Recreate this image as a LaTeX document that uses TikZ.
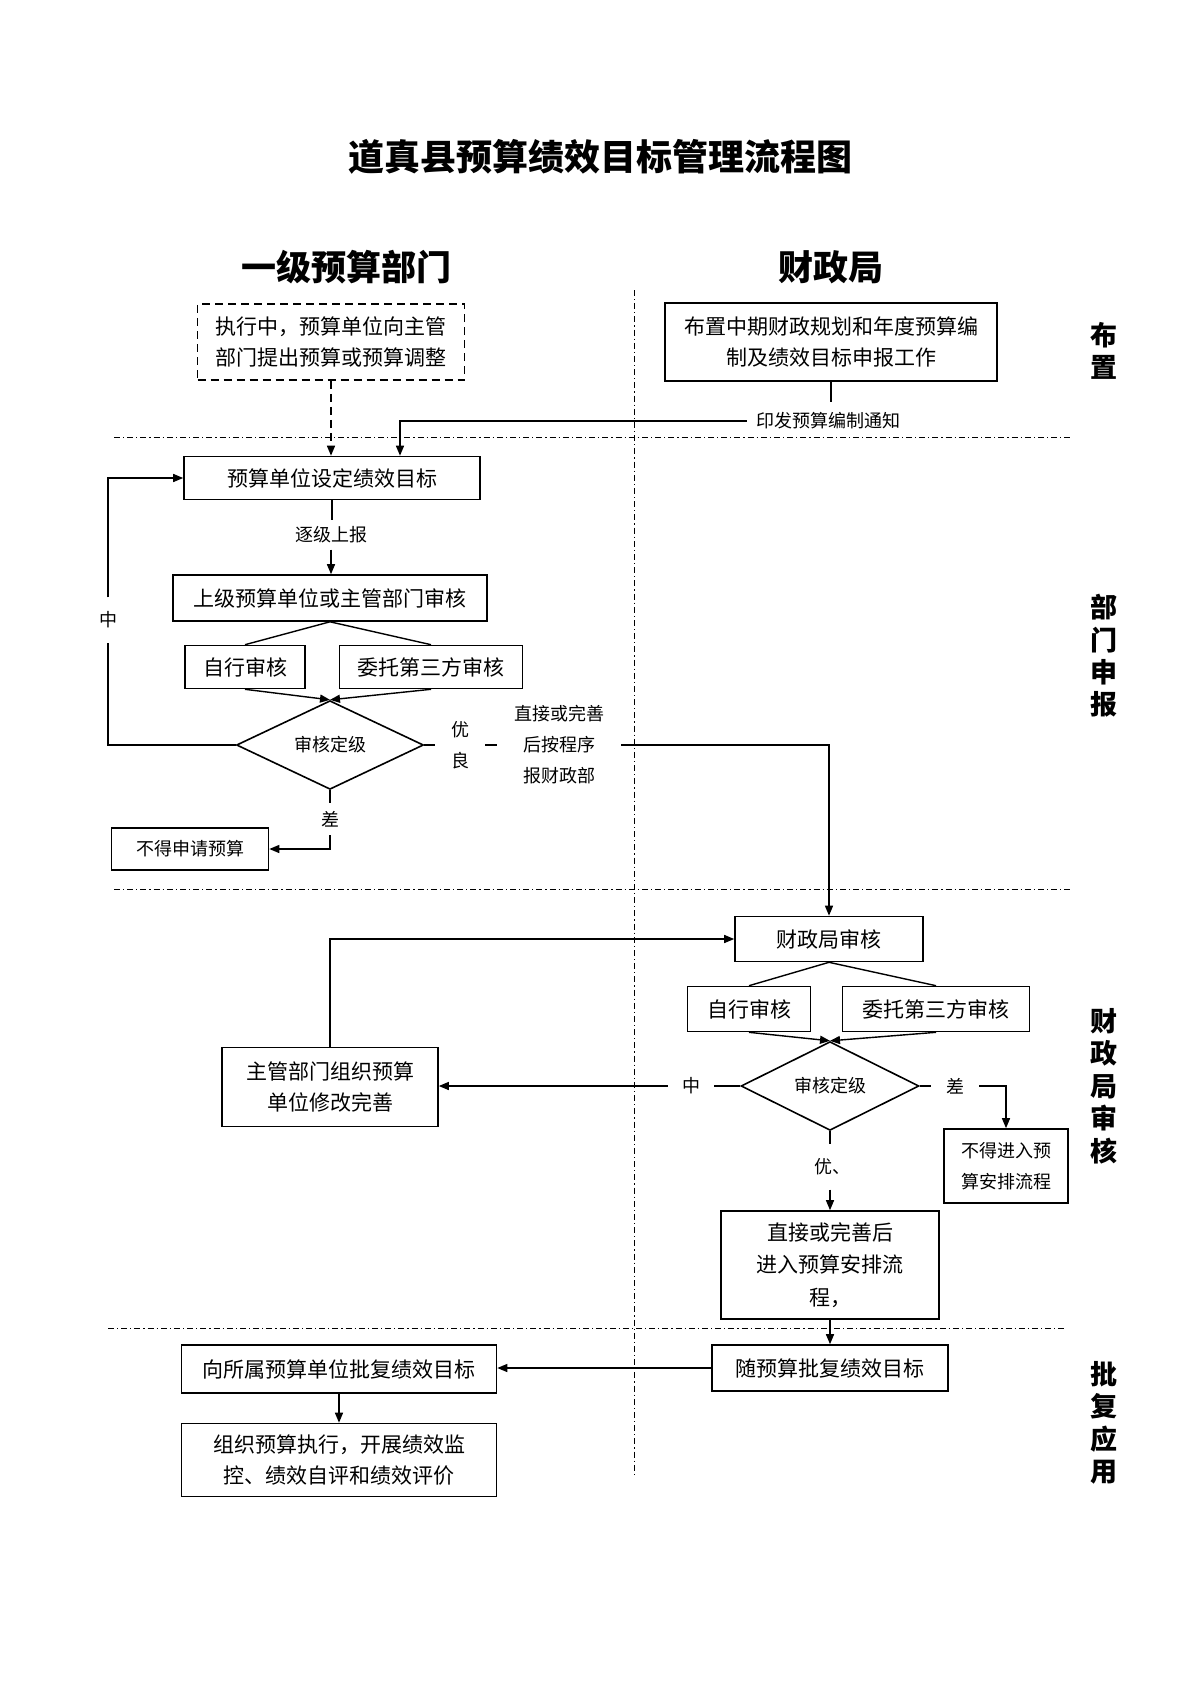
\documentclass[tikz,border=0pt]{standalone}
\usepackage{fontspec}
\newfontfamily\cjk{Noto Sans CJK SC}
\usetikzlibrary{shapes.geometric,arrows.meta,calc}
\begin{document}
\begin{tikzpicture}[x=0.5pt,y=-0.5pt,
  wh/.style 2 args={minimum width=#1*0.5pt,minimum height=#2*0.5pt},
  box/.style={draw,line width=0.8pt,inner sep=0pt,align=center,font=\cjk\fontsize{10.5}{15.5}\selectfont},
  sbox/.style={box,font=\cjk\fontsize{9}{15.5}\selectfont},
  lbl/.style={inner sep=0pt,align=center,font=\cjk\fontsize{9}{15.5}\selectfont},
  dia/.style={diamond,draw,line width=0.8pt,inner sep=0pt,font=\cjk\fontsize{9}{11}\selectfont},
  con/.style={line width=0.7pt},
  arr/.style={con,-{Triangle[length=5pt,width=4pt]}},
  sepline/.style={line width=0.45pt,dash pattern=on 3pt off 1.5pt on 0.6pt off 1.5pt},
  side/.style={align=center,font=\cjk\bfseries\fontsize{13.5}{16.2}\selectfont},
  head/.style={font=\cjk\bfseries\fontsize{17.5}{20}\selectfont},
]
\fill[white] (0,0) rectangle (1200,1696);
\useasboundingbox (0,0) rectangle (1200,1696);

% title and headers
\node[font=\cjk\bfseries\fontsize{18}{20}\selectfont] (title) at (600,157) {道真县预算绩效目标管理流程图};
\node[head] (hl) at (346,267) {一级预算部门};
\node[head] (hr) at (831,267) {财政局};

% side labels
\node[side] (s1) at (1104,351) {布\\置};
\node[side] (s2) at (1104,656) {部\\门\\申\\报};
\node[side] (s3) at (1104,1086) {财\\政\\局\\审\\核};
\node[side] (s4) at (1104,1423) {批\\复\\应\\用};

% layout section
\node[box,dash pattern=on 4pt off 2.5pt,wh={267}{76}] (dbox) at (331,342) {执行中，预算单位向主管\\部门提出预算或预算调整};
\node[box,wh={332}{78}] (bz) at (831,342) {布置中期财政规划和年度预算编\\制及绩效目标申报工作};
\node[lbl,inner xsep=4.5pt,inner ysep=5pt] (yfa) at (828,421) {印发预算编制通知};
\coordinate (ax) at (400,0);

% department section
\node[box,wh={296}{43}] (t1) at (332,478) {预算单位设定绩效目标};
\draw[con] (bz.south) -- (bz.south |- yfa.north);
\draw[arr] (yfa.west) -| (t1.north -| ax);
\draw[arr,dash pattern=on 4pt off 2.5pt] (dbox.south) -- (dbox.south |- t1.north);

\node[lbl,inner sep=3pt] (zj) at (331,535) {逐级上报};
\node[box,wh={314}{46}] (t2) at (330,598) {上级预算单位或主管部门审核};
\draw[con] (t1.south) -- (t1.south |- zj.north);
\draw[arr] (zj.south) -- (zj.south |- t2.north);

\node[box,wh={120}{43}] (t3a) at (245,667) {自行审核};
\node[box,wh={183}{43}] (t3b) at (431,667) {委托第三方审核};
\draw[con] (t2.south) -- (t3a.north);
\draw[con] (t2.south) -- (t3b.north);

\node[dia,wh={187}{69}] (d1) at (330,745) {审核定级};
\draw[arr] (t3a.south) -- (d1.north);
\draw[arr] (t3b.south) -- (d1.north);

\node[lbl,inner xsep=2pt,inner ysep=7pt] (zh1) at (108,620) {中};
\draw[con] (d1.west) -| (zh1.south);
\draw[arr] (zh1.north) |- (t1.west);

\node[lbl,inner xsep=8pt,inner ysep=2pt] (yl) at (460,745) {优\\良};
\node[lbl,inner xsep=8.5pt,inner ysep=2pt] (zj2) at (559,745) {直接或完善\\后按程序\\报财政部};
\draw[con] (d1.east) -- (yl.west);
\draw[con] (yl.east) -- (zj2.west);

\node[lbl,inner sep=4pt] (ch1) at (330,819) {差};
\node[sbox,wh={157}{42}] (nb1) at (190,849) {不得申请预算};
\draw[con] (d1.south) -- (ch1.north);
\draw[arr] (ch1.south) |- (nb1.east);

% finance bureau section
\node[box,wh={188}{45}] (t4) at (829,939) {财政局审核};
\draw[arr] (zj2.east) -| (t4.north);

\node[box,wh={216}{79}] (t5) at (330,1087) {主管部门组织预算\\单位修改完善};
\draw[arr] (t5.north) |- (t4.west);

\node[box,wh={123}{45}] (t6a) at (749,1009) {自行审核};
\node[box,wh={187}{45}] (t6b) at (936,1009) {委托第三方审核};
\draw[con] (t4.south) -- (t6a.north);
\draw[con] (t4.south) -- (t6b.north);

\node[dia,wh={178}{78}] (d2) at (830,1086) {审核定级};
\draw[arr] (t6a.south) -- (d2.north);
\draw[arr] (t6b.south) -- (d2.north);

\node[lbl,inner xsep=7pt,inner ysep=2pt] (zh2) at (691,1086) {中};
\draw[con] (d2.west) -- (zh2.east);
\draw[arr] (zh2.west) -- (zh2.west -| t5.east);

\node[lbl,inner xsep=7.5pt,inner ysep=2pt] (ch2) at (955,1086) {差};
\node[sbox,wh={124}{74}] (nb2) at (1006,1166) {不得进入预\\算安排流程};
\draw[con] (d2.east) -- (ch2.west);
\draw[arr] (ch2.east) -| (nb2.north);

\node[lbl,inner xsep=1pt,inner ysep=7pt] (you2) at (832,1167) {优、};
\node[box,wh={218}{108},font=\cjk\fontsize{10.5}{16.25}\selectfont] (t7) at (830,1265) {直接或完善后\\进入预算安排流\\程，};
\draw[con] (d2.south) -- (d2.south |- you2.north);
\draw[arr] (d2.south |- you2.south) -- (t7.north);

% approval section
\node[box,wh={236}{46}] (t8) at (830,1368) {随预算批复绩效目标};
\draw[arr] (t7.south) -- (t8.north);
\node[box,wh={315}{48}] (t9) at (339,1369) {向所属预算单位批复绩效目标};
\draw[arr] (t8.west) -- (t8.west -| t9.east);
\node[box,wh={315}{73}] (t10) at (339,1460) {组织预算执行，开展绩效监\\控、绩效自评和绩效评价};
\draw[arr] (t9.south) -- (t10.north);

% separators
\draw[sepline] (114,437) -- (1071,437);
\draw[sepline] (114,889) -- (1071,889);
\draw[sepline] (108,1328) -- (1066,1328);
\draw[sepline] (634,290) -- (634,1474);
\end{tikzpicture}
\end{document}
